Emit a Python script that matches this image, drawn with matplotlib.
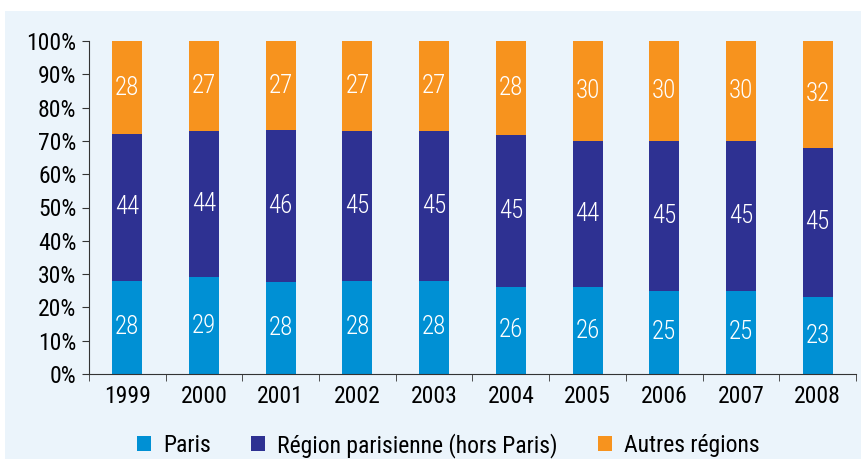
import matplotlib.pyplot as plt
import matplotlib.patches as mpatches
import numpy as np
from matplotlib import font_manager

# pick a condensed sans if one is installed
names = set(f.name for f in font_manager.fontManager.ttflist)
fam = 'DejaVu Sans'
for c in ['Roboto Condensed', 'Archivo Narrow', 'PT Sans Narrow', 'Liberation Sans Narrow', 'Fira Sans Condensed']:
    if c in names:
        fam = c
        break
plt.rcParams['font.family'] = [fam, 'DejaVu Sans']

years = ['1999', '2000', '2001', '2002', '2003', '2004', '2005', '2006', '2007', '2008']
paris = [28, 29, 28, 28, 28, 26, 26, 25, 25, 23]
region = [44, 44, 46, 45, 45, 45, 44, 45, 45, 45]
autres = [28, 27, 27, 27, 27, 28, 30, 30, 30, 32]
series_names = ['Paris', 'Région parisienne (hors Paris)', 'Autres régions']
colors = ['#0090D4', '#2E3192', '#F7931E']
bg = '#EBF4FB'

data = np.array([paris, region, autres], dtype=float)
shares = data / data.sum(axis=0) * 100

fig = plt.figure(figsize=(8.62, 4.59), dpi=100)
fig.patches.append(mpatches.Rectangle((5 / 862, 0), 1, 1 - 11 / 459, transform=fig.transFigure,
                                      facecolor=bg, edgecolor='none', zorder=-10))
ax = fig.add_axes([89 / 862, 1 - 374 / 459, (856 - 89) / 862, (374 - 41) / 459])
ax.set_facecolor('none')

x = np.arange(len(years))
bottom = np.zeros(len(years))
handles = []
for k in range(3):
    b = ax.bar(x, shares[k], 0.39, bottom=bottom, color=colors[k], label=series_names[k])
    for i in range(len(years)):
        ax.text(x[i], bottom[i] + shares[k][i] / 2, str(int(data[k][i])), ha='center', va='center',
                color='white', fontsize=18, fontweight='light')
    bottom += shares[k]
    handles.append(b)

ax.set_xlim(-0.5, len(years) - 0.5)
ax.set_ylim(0, 100)
ax.set_yticks(np.arange(0, 101, 10))
ax.set_yticklabels(['%d%%' % v for v in range(0, 101, 10)], fontsize=17)
ax.set_xticks(x)
ax.set_xticklabels(years, fontsize=17)
ax.tick_params(axis='x', length=0, pad=8)
ax.set_xticks(np.arange(-0.5, len(years)), minor=True)
ax.tick_params(axis='x', which='minor', length=5, direction='out', color='#333333')
ax.tick_params(axis='y', length=5, color='#333333', pad=4)
for s in ['top', 'right']:
    ax.spines[s].set_visible(False)
for s in ['left', 'bottom']:
    ax.spines[s].set_color('#333333')

fig.legend(handles=handles, labels=series_names, loc='center', bbox_to_anchor=(0.52, 0.03),
           ncol=3, frameon=False, fontsize=17, handlelength=0.6, handleheight=0.6,
           handletextpad=0.5, columnspacing=1.7)

fig.savefig('out.png', dpi=100)
